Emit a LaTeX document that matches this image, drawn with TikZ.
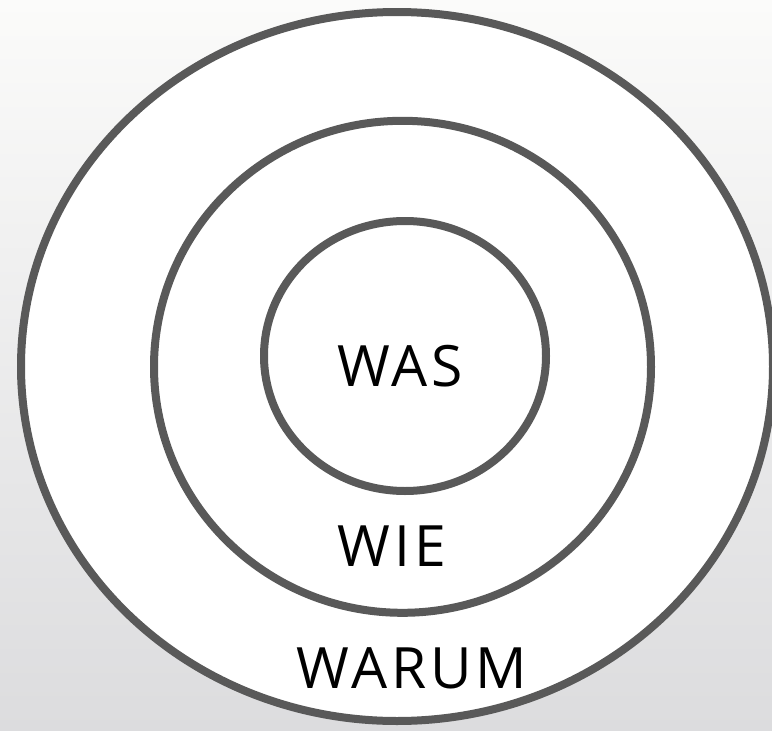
\documentclass[tikz,border=0pt]{standalone}
\usepackage{fontspec}
\setmainfont{Open Sans}
\newfontfamily\ringfont[LetterSpace=7]{Open Sans}
\definecolor{ring}{HTML}{595959}
\definecolor{bgtop}{HTML}{FBFBFA}
\definecolor{bgbot}{HTML}{DCDCDE}
\tikzset{
  ringline/.style={draw=ring,fill=white,line width=8pt},
  ringtext/.style={font=\ringfont\fontsize{57}{62}\selectfont,text=black,inner sep=0pt}
}
\begin{document}
\begin{tikzpicture}[x=1pt,y=-1pt]
  % background
  \clip (0,0) rectangle (772,731);
  \shade[top color=bgtop,bottom color=bgbot] (0,0) rectangle (772,731);
  % rings, outer to inner
  \draw[ringline] (397,366.5) ellipse [x radius=376,y radius=354.5];
  \draw[ringline] (402.5,366.8) ellipse [x radius=248.5,y radius=246];
  \draw[ringline] (405,356) ellipse [x radius=141,y radius=135];
  % labels
  \node[ringtext] (was) at (400,366) {WAS};
  \node[ringtext] (wie) at (392,546) {WIE};
  \node[ringtext] (warum) at (412,668) {WARUM};
\end{tikzpicture}
\end{document}
